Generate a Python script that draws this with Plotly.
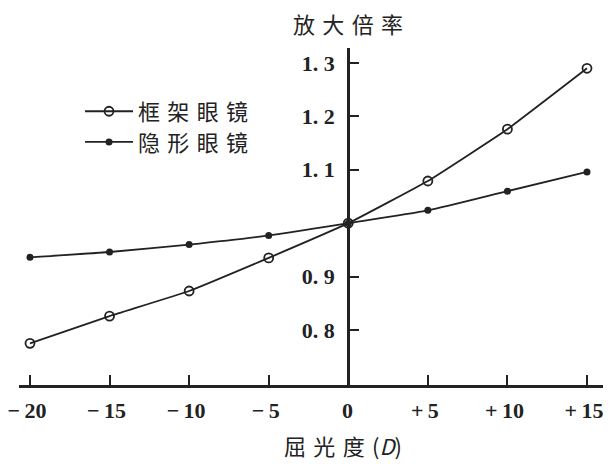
import plotly.graph_objects as go

diopters = [-20, -15, -10, -5, 0, 5, 10, 15]
frame_glasses = [0.775, 0.826, 0.873, 0.935, 1.0, 1.079, 1.176, 1.290]
contact_lenses = [0.936, 0.946, 0.960, 0.977, 1.0, 1.024, 1.060, 1.096]
x_tickvals = [-20, -15, -10, -5, 0, 5, 10, 15]
x_ticktext = ["\u2212\u200920", "\u2212\u200915", "\u2212\u200910", "\u2212\u20095", "\u20090",
              "+\u20095", "+\u200910", "+\u200915"]
y_tickvals = [0.8, 0.9, 1.1, 1.2, 1.3]
y_ticktext = ["0.\u20058", "0.\u20059", "1.\u20051", "1.\u20052", "1.\u20053"]
names = ["框\u2004架\u2004眼\u2004镜", "隐\u2004形\u2004眼\u2004镜"]

xr = [-20.69, 16.32]
yr = [0.697, 1.328]
cjk = "Noto Sans CJK SC"
num_font = dict(family="Liberation Serif", size=22, color="#222", weight="bold")
leg_style = dict(xanchor="left", yanchor="top", bgcolor="rgba(0,0,0,0)", itemwidth=48,
                 font=dict(family=cjk, size=22, color="#222"))

fig = go.Figure()
fig.add_trace(go.Scatter(
    x=diopters, y=frame_glasses, name=names[0], mode="lines+markers",
    line=dict(color="#222", width=1.8, shape="spline", smoothing=0.3),
    marker=dict(symbol="circle-open", size=9, color="#222", line=dict(width=1.8)),
    legend="legend",
))
fig.add_trace(go.Scatter(
    x=diopters, y=contact_lenses, name=names[1], mode="lines+markers",
    line=dict(color="#222", width=1.8, shape="spline", smoothing=0.6),
    marker=dict(symbol="circle", size=7, color="#222"),
    legend="legend2",
))

# the page body has an 8px default margin, so the figure is 8px smaller
fig.update_layout(
    width=603, height=459,
    margin=dict(l=11, r=3, t=40, b=82, autoexpand=False),
    paper_bgcolor="white", plot_bgcolor="white",
    showlegend=True,
    legend=dict(x=0.1036, y=0.874, **leg_style),
    legend2=dict(x=0.1036, y=0.783, **leg_style),
    xaxis=dict(range=xr, showgrid=False, zeroline=False, automargin=False,
               showline=True, linecolor="#222", linewidth=3,
               tickmode="array", tickvals=x_tickvals, ticktext=x_ticktext,
               ticks="inside", ticklen=10, tickwidth=2, tickcolor="#222",
               tickfont=num_font, ticklabelshift=-3, ticklabelstandoff=4,
               ticklabeloverflow="allow"),
    yaxis=dict(range=yr, showgrid=False, zeroline=False, automargin=False,
               anchor="free", position=(0 - xr[0]) / (xr[1] - xr[0]),
               showline=True, linecolor="#222", linewidth=3,
               tickmode="array", tickvals=y_tickvals, ticktext=y_ticktext,
               ticks="inside", ticklen=9, tickwidth=2, tickcolor="#222",
               tickfont=num_font, ticklabelstandoff=8),
    annotations=[
        dict(text="放\u2004大\u2004倍\u2004率", x=0, xref="x", y=1.074, yref="paper",
             showarrow=False, font=dict(family=cjk, size=22, color="#222"),
             xanchor="center", yanchor="middle"),
        dict(text="屈\u2004光\u2004度\u2004(<i>D</i>)", x=0, xref="x", y=-0.178, yref="paper",
             xshift=-5, showarrow=False, font=dict(family=cjk, size=22, color="#222"),
             xanchor="center", yanchor="middle"),
    ],
)

fig.write_html("out.html")
